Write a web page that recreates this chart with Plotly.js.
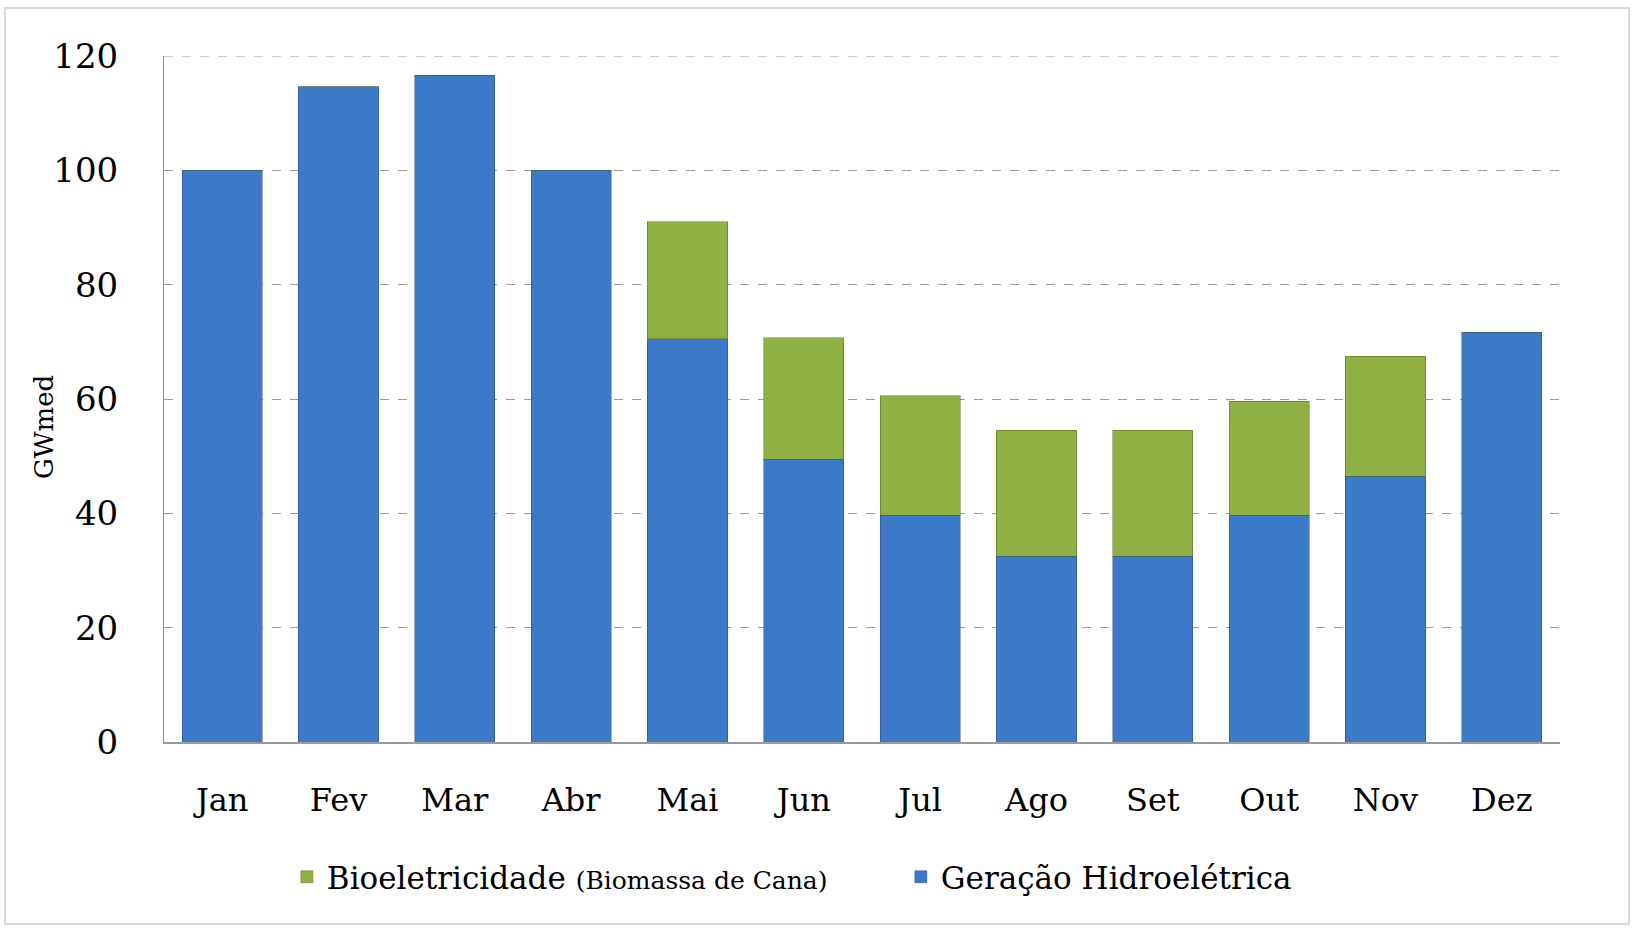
<!DOCTYPE html>
<html>
<head>
<meta charset="utf-8">
<script src="https://cdn.plot.ly/plotly-3.0.1.min.js"></script>
<style>
html,body{margin:0;padding:0;background:#fff;}
#chart{width:1634px;height:930px;}
</style>
</head>
<body>
<div id="chart"></div>
<script>
const months = ["Jan","Fev","Mar","Abr","Mai","Jun","Jul","Ago","Set","Out","Nov","Dez"];
const hidro = [100, 114.6, 116.6, 100, 70.5, 49.5, 39.7, 32.5, 32.5, 39.7, 46.5, 71.7];
const bio = [0, 0, 0, 0, 20.5, 21.2, 20.9, 22, 22, 19.9, 21, 0];
const yTicks = [0, 20, 40, 60, 80, 100, 120];
const nameHidro = "Geração Hidroelétrica";
const nameBio = "Bioeletricidade <span style=\"font-size:25px\">(Biomassa de Cana)</span>";
const yLabel = "GWmed";

const serif = "DejaVu Serif, Liberation Serif, serif";
const yMax = yTicks[yTicks.length - 1];

const traces = [
  {
    type: "bar", x: months, y: hidro, name: nameHidro,
    marker: {color: "#3c79c8", line: {color: "rgba(40,70,120,0.45)", width: 1}},
    hoverinfo: "x+y+name"
  },
  {
    type: "bar", x: months, y: bio, name: nameBio,
    marker: {color: "#8fb143", line: {color: "rgba(80,100,30,0.45)", width: 1}},
    hoverinfo: "x+y+name"
  }
];

const layout = {
  width: 1634, height: 930,
  paper_bgcolor: "#ffffff", plot_bgcolor: "#ffffff",
  margin: {l: 164, r: 74, t: 56, b: 188},
  barmode: "stack",
  bargap: 0.31,
  font: {family: serif, color: "#000000"},
  xaxis: {
    type: "category",
    tickfont: {family: serif, size: 32, color: "#000"},
    showline: true, linecolor: "#9a9a9a", linewidth: 2,
    ticks: "", showgrid: false, zeroline: false,
    ticklabelstandoff: 29
  },
  yaxis: {
    range: [0, yMax], tickvals: yTicks, ticktext: yTicks.map(String),
    tickfont: {family: serif, size: 34, color: "#000"},
    showline: true, linecolor: "#8a8a8a", linewidth: 1,
    showgrid: true, gridcolor: "#9a9a9a", griddash: "dash", gridwidth: 1,
    zeroline: false, ticks: "", ticklabelstandoff: 38
  },
  legend: {
    orientation: "h", traceorder: "reversed",
    x: 0.088, xanchor: "left", y: -0.197, yanchor: "middle",
    font: {family: serif, size: 31, color: "#000"},
    entrywidth: 569
  },
  annotations: [{
    text: yLabel, textangle: -90, showarrow: false,
    xref: "paper", yref: "paper",
    x: (44 - 164) / 1396, y: (742 - 427) / 686,
    xanchor: "center", yanchor: "middle",
    font: {family: serif, size: 26, color: "#000"}
  }],
  shapes: [
    {
      type: "rect", xref: "paper", yref: "paper", layer: "below",
      x0: (5 - 164) / 1396, x1: (1629 - 164) / 1396,
      y0: (742 - 924) / 686, y1: (742 - 8) / 686,
      line: {color: "#d9d9d9", width: 2}, fillcolor: "rgba(0,0,0,0)"
    },
    {
      type: "line", xref: "paper", yref: "y", layer: "below",
      x0: 0, x1: 1, y0: yMax, y1: yMax,
      line: {color: "#9a9a9a", width: 1, dash: "dash"}
    }
  ],
  showlegend: true
};

Plotly.newPlot("chart", traces, layout, {displayModeBar: false});
</script>
</body>
</html>
